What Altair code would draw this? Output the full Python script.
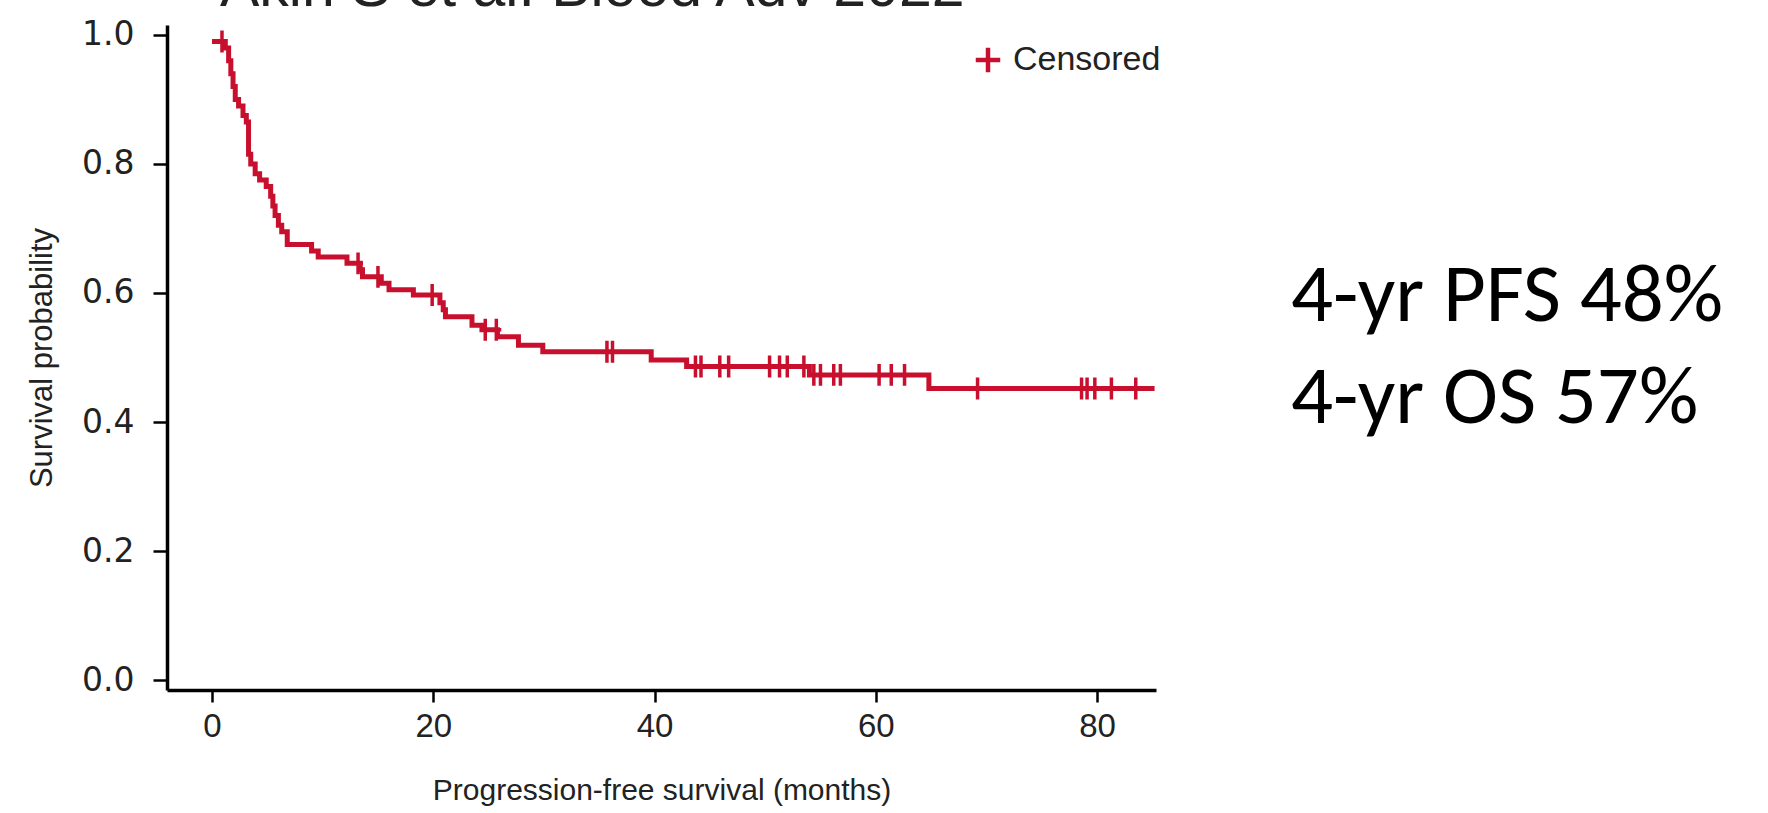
import altair as alt
import numpy as np
import pandas as pd

RED = "#C8102E"
TEXT = "#222222"
TITLE = "Akin S et al. Blood Adv 2022"
ANNOTATION = ["4-yr PFS 48%", "4-yr OS 57%"]
X_LABEL = "Progression-free survival (months)"
Y_LABEL = "Survival probability"
LEGEND_LABEL = "Censored"
X_TICKS = [0, 20, 40, 60, 80]
Y_TICKS = [0.0, 0.2, 0.4, 0.6, 0.8, 1.0]

# Kaplan-Meier steps (month of event, survival after event)
step_months = [0.0, 1.2, 1.5, 1.7, 1.9, 2.1, 2.4, 2.8, 3.1, 3.3, 3.5, 3.9, 4.3,
               4.9, 5.3, 5.5, 5.7, 6.0, 6.3, 6.8, 9.0, 9.6, 12.2, 13.4, 13.6,
               15.3, 16.0, 18.2, 20.6, 20.9, 21.1, 23.5, 24.4, 25.8, 27.7,
               29.9, 39.7, 42.9, 54.0, 64.8]
step_survival = [0.99, 0.98, 0.96, 0.94, 0.92, 0.90, 0.89, 0.875, 0.865, 0.815,
                 0.80, 0.785, 0.775, 0.765, 0.75, 0.735, 0.72, 0.705, 0.695,
                 0.675, 0.665, 0.656, 0.646, 0.636, 0.625, 0.615, 0.605, 0.597,
                 0.585, 0.574, 0.563, 0.550, 0.543, 0.532, 0.519, 0.509, 0.496,
                 0.486, 0.473, 0.452]
FOLLOW_UP_END = 85.2

censor_months = [0.9, 13.2, 15.0, 19.9, 24.7, 25.7, 35.7, 36.2, 43.7, 44.2,
                 45.9, 46.7, 50.4, 51.3, 52.0, 53.5, 54.4, 55.0, 56.2, 56.8,
                 60.3, 61.4, 62.6, 69.2, 78.6, 79.1, 79.8, 81.3, 83.5]

curve = pd.DataFrame({
    "month": step_months + [FOLLOW_UP_END],
    "surv": step_survival + [step_survival[-1]],
})
idx = np.searchsorted(np.array(step_months), np.array(censor_months), side="right") - 1
censored = pd.DataFrame({
    "month": censor_months,
    "surv": [step_survival[i] for i in idx],
    "kind": [LEGEND_LABEL] * len(censor_months),
})

SANS = "Liberation Sans"
TICK_PATH = "M0,-1V1M-0.45,0H0.45"
PLUS_PATH = "M0,-1V1M-1,0H1"

x_scale = alt.Scale(domain=[-4.07, 85.33], nice=False, zero=False)
y_scale = alt.Scale(domain=[-0.0155, 1.0155], nice=False, zero=False)

x_axis = alt.Axis(values=X_TICKS, title=X_LABEL, labelFont=SANS, labelFontSize=33,
                  labelPadding=8, titleFont=SANS, titleFontSize=30,
                  titleFontWeight="normal", titlePadding=32, tickSize=12)
y_axis = alt.Axis(values=Y_TICKS, format=".1f", title=Y_LABEL, labelFont="DejaVu Sans",
                  labelFontSize=33, labelPadding=19, titleFont=SANS, titleFontSize=31,
                  titleFontWeight="normal", titlePadding=23, tickSize=14)

line = alt.Chart(curve).mark_line(interpolate="step-after", strokeWidth=5, color=RED).encode(
    x=alt.X("month:Q", scale=x_scale, axis=x_axis),
    y=alt.Y("surv:Q", scale=y_scale, axis=y_axis),
)

ticks = alt.Chart(censored).mark_point(shape=TICK_PATH, filled=False, size=480,
                                       strokeWidth=3.5, opacity=1).encode(
    x=alt.X("month:Q", scale=x_scale),
    y=alt.Y("surv:Q", scale=y_scale),
    color=alt.Color("kind:N", scale=alt.Scale(range=[RED]),
                    legend=alt.Legend(title=None, orient="none", legendX=804, legendY=18,
                                      symbolType=PLUS_PATH, symbolSize=600,
                                      symbolStrokeWidth=4.5, symbolStrokeColor=RED,
                                      labelFont=SANS, labelFontSize=34,
                                      labelColor=TEXT, labelOffset=8, padding=0)),
)

title_text = alt.Chart(pd.DataFrame({"label": [TITLE]})).mark_text(
    font=SANS, fontSize=59, align="left", baseline="alphabetic", color=TEXT
).encode(x=alt.value(53), y=alt.value(-19), text="label:N")

annotation = alt.Chart(pd.DataFrame({"row": [0]})).mark_text(
    font="Carlito, Lato", fontSize=83, align="left", baseline="alphabetic",
    lineHeight=102, color="black"
).encode(x=alt.value(1124), y=alt.value(296), text=alt.value(ANNOTATION))

chart = alt.layer(line, ticks, title_text, annotation).properties(
    width=989, height=665,
    autosize=alt.AutoSizeParams(type="none"),
    padding={"left": 167, "top": 25, "right": 612, "bottom": 123},
).configure_view(stroke=None).configure_axis(
    grid=False, domainColor="black", domainWidth=3.5, tickColor="black",
    tickWidth=2.5, labelColor=TEXT, titleColor=TEXT,
)

chart.save("out.html", embed_options={"renderer": "svg", "actions": False})
